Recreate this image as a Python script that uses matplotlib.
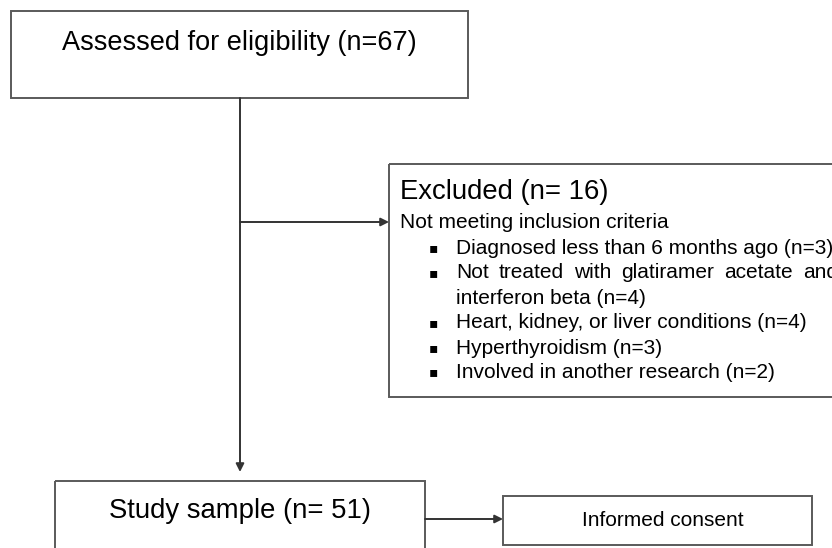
import matplotlib
matplotlib.use("Agg")
import matplotlib.pyplot as plt
from matplotlib.patches import Rectangle

# ---- data ----
assessed_n = 67
excluded_n = 16
sample_n = 51
exclusion_header = "Not meeting inclusion criteria"
exclusion_reasons = [
    "Diagnosed less than 6 months ago",
    "Not treated with glatiramer acetate and interferon beta",
    "Heart, kidney, or liver conditions",
    "Hyperthyroidism",
    "Involved in another research",
]
exclusion_counts = [3, 4, 4, 3, 2]
consent_label = "Informed consent"

W, H = 832, 548
fig = plt.figure(figsize=(W / 100, H / 100), dpi=100)
ax = fig.add_axes([0, 0, 1, 1])
ax.set_xlim(0, W)
ax.set_ylim(H, 0)
ax.axis("off")
renderer = fig.canvas.get_renderer()

SANS = ["Liberation Sans", "DejaVu Sans"]
EDGE = "#5a5a5a"
LINE = "#333333"


def box(x0, y0, x1, y1):
    ax.add_patch(Rectangle((x0, y0), x1 - x0, y1 - y0, fill=False,
                           edgecolor=EDGE, linewidth=1.4, clip_on=False))


def arrow(x0, y0, x1, y1):
    ax.annotate("", xy=(x1, y1), xytext=(x0, y0),
                arrowprops=dict(arrowstyle="-|>", color=LINE, lw=1.4,
                                mutation_scale=12, shrinkA=0, shrinkB=0))


def justified(words, x_left, x_right, y, fs):
    texts = [ax.text(0, y, w, ha="left", va="center", fontsize=fs,
                     family=SANS, color="black") for w in words]
    widths = [t.get_window_extent(renderer).width for t in texts]
    gap = (x_right - x_left - sum(widths)) / (len(words) - 1)
    x = x_left
    for t, w in zip(texts, widths):
        t.set_x(x)
        x += w + gap


# top box
box(11, 11, 468, 98)
ax.text(239, 43, f"Assessed for eligibility (n={assessed_n})", ha="center",
        va="center", fontsize=19.5, family=SANS, color="black")

# main vertical arrow
arrow(240, 98, 240, 472)
# branch to excluded
arrow(240, 222, 389, 222)

# excluded box (clipped on right)
box(389, 164, 860, 397)
ax.text(400, 192, f"Excluded (n= {excluded_n})", ha="left", va="center",
        fontsize=19.8, family=SANS, color="black")
ax.text(400, 222, exclusion_header, ha="left", va="center", fontsize=15,
        family=SANS, color="black")

fs = 15
lines_y = [248, 273, 298, 323, 348, 372]
bullet_x, text_x = 433, 456
row = 0
for reason, cnt in zip(exclusion_reasons, exclusion_counts):
    y = lines_y[row]
    ax.text(bullet_x, y, "\u25aa", ha="center", va="center", fontsize=10,
            family=["DejaVu Sans"], color="black")
    if reason.startswith("Not treated"):
        words = reason.split()
        justified(words[:6], text_x, 838, y, fs)
        row += 1
        rest = " ".join(words[6:])
        ax.text(text_x, lines_y[row], f"{rest} (n={cnt})", ha="left",
                va="center", fontsize=fs, family=SANS, color="black")
    else:
        ax.text(text_x, y, f"{reason} (n={cnt})", ha="left", va="center",
                fontsize=fs, family=SANS, color="black")
    row += 1

# study sample box
box(55, 481, 425, 600)
ax.text(240, 511, f"Study sample (n= {sample_n})", ha="center", va="center",
        fontsize=19.8, family=SANS, color="black")

# consent
arrow(425, 519, 503, 519)
box(503, 496, 812, 545)
ax.text(663, 520, consent_label, ha="center", va="center", fontsize=15,
        family=SANS, color="black")

fig.savefig("out.png", dpi=100, facecolor="white")
